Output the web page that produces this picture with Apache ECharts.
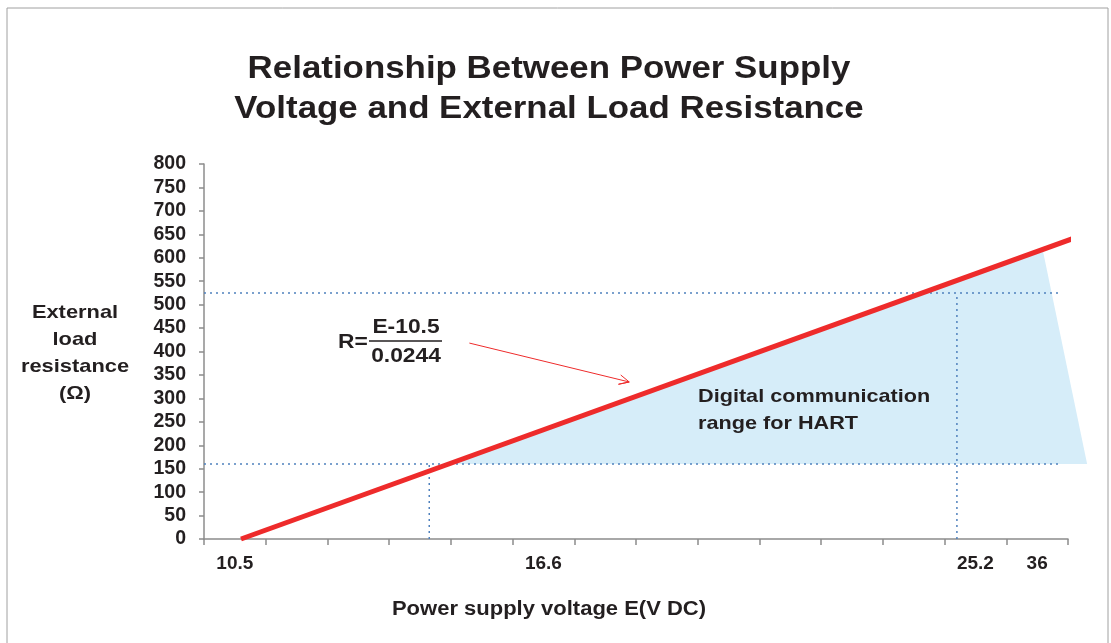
<!DOCTYPE html>
<html>
<head>
<meta charset="utf-8">
<title>Power Supply Voltage vs External Load Resistance</title>
<script src="https://cdn.jsdelivr.net/npm/echarts@6/dist/echarts.min.js"></script>
<style>
    html, body {
        margin: 0;
        padding: 0;
        background: #fff;
    }

    #main {
        width: 1111px;
        height: 643px;
    }
</style>
</head>
<body>
<div id="main"></div>
<script>
// x axis is a category axis (14 slots), only some slots carry a label
const voltageLabels = ['10.5', '', '', '', '', '16.6', '', '', '', '', '', '', '25.2', '36']
const resistanceTicks = [0, 800, 50]

// red line R = (E-10.5)/0.0244, in slot units along x
const lineX = [0.6, 14.25]
const lineY = [0, 649]

// HART communication area
const hartX = [3.96, 13.59, 14.31]
const hartY = [160, 617, 160]

// dotted guide lines
const guideLevels = [160, 525]
const guideEndX = 13.9
const guideVoltX = [3.65, 12.2]

// formula arrow
const arrowX = [4.3, 6.89]
const arrowY = [418, 335]

const textColor = '#231f20'
const fontFamily = '"Liberation Sans", Arial, sans-serif'

const chart = echarts.init(document.getElementById('main'))

// the source picture is a little stretched sideways, hence scaleX
const freeText = (text, x, y, size, align, sx, extra) => ({
    type: 'text',
    x: x,
    y: y,
    scaleX: sx,
    z: 10,
    style: Object.assign({
        text: text,
        align: align,
        verticalAlign: 'middle',
        fill: textColor,
        font: 'bold ' + size + 'px ' + fontFamily
    }, extra || {})
})

const guideSeries = []
guideLevels.forEach((level, i) => {
    guideSeries.push({
        type: 'line',
        xAxisIndex: 1,
        symbol: 'none',
        silent: true,
        data: [[0, level], [guideEndX, level]],
        lineStyle: { color: '#4f81bd', width: 1.5, type: [2, 4] },
        z: 3
    })
    guideSeries.push({
        type: 'line',
        xAxisIndex: 1,
        symbol: 'none',
        silent: true,
        data: [[guideVoltX[i], 0], [guideVoltX[i], level]],
        lineStyle: { color: '#4f81bd', width: 1.5, type: [2, 4] },
        z: 3
    })
})

chart.setOption({
    animation: false,
    grid: {
        left: 204,
        right: 43,
        top: 164,
        bottom: 104
    },
    xAxis: [
        {
            type: 'category',
            data: voltageLabels,
            boundaryGap: true,
            axisLine: { lineStyle: { color: '#8c8c8c', width: 1.5 } },
            axisTick: { show: true, interval: 0, length: 6, lineStyle: { color: '#8c8c8c', width: 1.5 } },
            axisLabel: {
                interval: 0,
                margin: 15,
                color: textColor,
                fontFamily: fontFamily,
                fontSize: 19,
                fontWeight: 'bold'
            },
            splitLine: { show: false }
        },
        {
            type: 'value',
            min: 0,
            max: voltageLabels.length,
            show: false
        }
    ],
    yAxis: {
        type: 'value',
        min: resistanceTicks[0],
        max: resistanceTicks[1],
        interval: resistanceTicks[2],
        axisLine: { show: true, lineStyle: { color: '#8c8c8c', width: 1.5 } },
        axisTick: { show: true, length: 5, lineStyle: { color: '#8c8c8c', width: 1.5 } },
        axisLabel: {
            margin: 18,
            color: textColor,
            fontFamily: fontFamily,
            fontSize: 19.5,
            fontWeight: 'bold'
        },
        splitLine: { show: false }
    },
    graphic: [
        {
            type: 'rect',
            shape: { x: 7, y: 8, width: 1101, height: 700 },
            style: { fill: 'none', stroke: '#a0a0a0', lineWidth: 1 },
            silent: true
        },
        freeText('Relationship Between Power Supply\nVoltage and External Load Resistance', 549, 89, 32, 'center', 1.09, { lineHeight: 40 }),
        freeText('External\nload\nresistance\n(Ω)', 75, 353, 19, 'center', 1.15, { lineHeight: 27 }),
        freeText('Power supply voltage E(V DC)', 549, 609, 20, 'center', 1.1),
        freeText('R=', 353, 342, 20, 'center', 1.14),
        freeText('E-10.5', 406, 327, 20, 'center', 1.14),
        {
            type: 'line',
            shape: { x1: 369, y1: 341, x2: 442, y2: 341 },
            style: { stroke: textColor, lineWidth: 1.5 }
        },
        freeText('0.0244', 406, 356, 20, 'center', 1.14),
        freeText('Digital communication\nrange for HART', 698, 410, 19, 'left', 1.14, { lineHeight: 27 })
    ],
    series: [
        {
            type: 'custom',
            xAxisIndex: 1,
            silent: true,
            data: [[0, 0]],
            z: 1,
            renderItem: (params, api) => ({
                type: 'polygon',
                shape: { points: hartX.map((x, i) => api.coord([x, hartY[i]])) },
                style: { fill: '#d6edf9' }
            })
        },
        ...guideSeries,
        {
            type: 'custom',
            xAxisIndex: 1,
            silent: true,
            data: [[0, 0]],
            z: 4,
            renderItem: (params, api) => {
                const p0 = api.coord([arrowX[0], arrowY[0]])
                const p1 = api.coord([arrowX[1], arrowY[1]])
                const ang = Math.atan2(p1[1] - p0[1], p1[0] - p0[0])
                const head = 11
                const spread = 0.45
                const h1 = [p1[0] - head * Math.cos(ang - spread), p1[1] - head * Math.sin(ang - spread)]
                const h2 = [p1[0] - head * Math.cos(ang + spread), p1[1] - head * Math.sin(ang + spread)]
                return {
                    type: 'polyline',
                    shape: { points: [p0, p1, h1, p1, h2] },
                    style: { stroke: '#ee2b2b', lineWidth: 1, fill: 'none' }
                }
            }
        },
        {
            type: 'line',
            xAxisIndex: 1,
            symbol: 'none',
            silent: true,
            clip: false,
            data: lineX.map((x, i) => [x, lineY[i]]),
            lineStyle: { color: '#ee2b2b', width: 5, cap: 'butt' },
            z: 5
        }
    ]
})

window.onresize = () => {
    chart.resize()
}
</script>
</body>
</html>
